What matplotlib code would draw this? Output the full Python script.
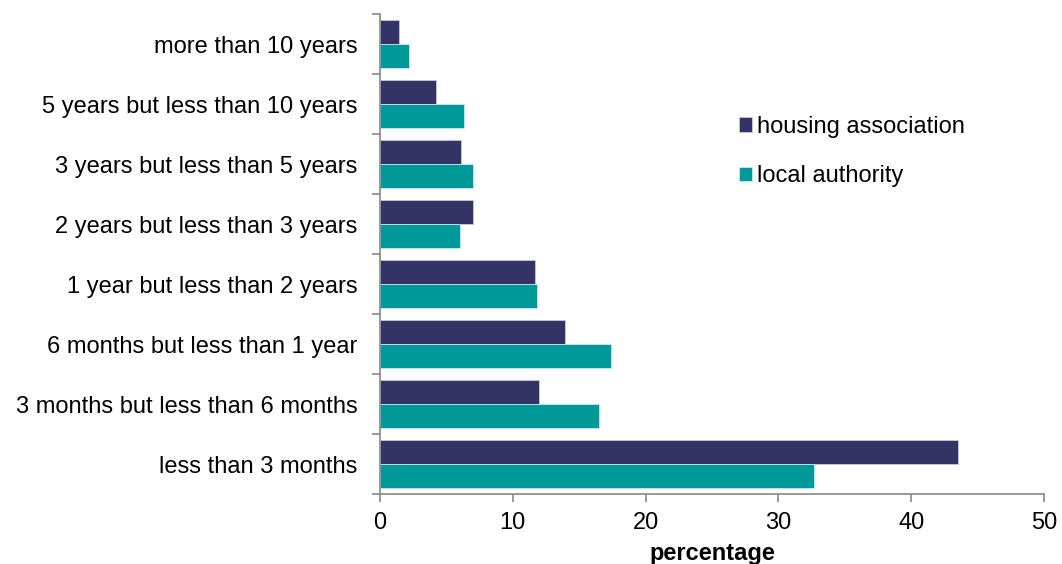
# Horizontal bar chart: length of time in current social housing tenancy
import matplotlib.pyplot as plt
import numpy as np

plt.rcParams['font.family'] = ['Liberation Sans', 'DejaVu Sans']

categories = ['less than 3 months', '3 months but less than 6 months',
              '6 months but less than 1 year', '1 year but less than 2 years',
              '2 years but less than 3 years', '3 years but less than 5 years',
              '5 years but less than 10 years', 'more than 10 years']
housing_association = [43.5, 12.0, 13.9, 11.7, 7.0, 6.1, 4.2, 1.4]
local_authority = [32.7, 16.5, 17.4, 11.8, 6.0, 7.0, 6.3, 2.2]


def bar_chart():
    fig = plt.figure(figsize=(10.62, 5.64), dpi=100)
    ax = fig.add_axes([0.3578, 0.1241, 0.6252, 0.8510])

    ind = np.arange(len(categories))
    height = 0.4
    ax.barh(ind + height / 2, housing_association, height, color='#333366',
            edgecolor='#c8c8d8', linewidth=0.6, label='housing association')
    ax.barh(ind - height / 2, local_authority, height, color='#009999',
            edgecolor='#c8e8e8', linewidth=0.6, label='local authority')

    ax.set_xlim(0, 50)
    ax.set_ylim(-0.5, len(categories) - 0.5)
    ax.set_xticks(np.arange(0, 51, 10))
    ax.set_yticks(ind)
    ax.set_yticklabels(categories)
    ax.set_yticks(np.arange(-0.5, len(categories), 1), minor=True)

    grey = '#888888'
    for side in ['top', 'right']:
        ax.spines[side].set_visible(False)
    for side in ['left', 'bottom']:
        ax.spines[side].set_color(grey)
        ax.spines[side].set_linewidth(1.2)
    ax.tick_params(axis='y', which='major', length=0, pad=16, labelsize=17)
    ax.tick_params(axis='y', which='minor', length=6, width=1.2, color=grey)
    ax.tick_params(axis='x', length=6, width=1.2, color=grey, labelsize=17, pad=7)

    ax.set_xlabel('percentage', fontsize=17, fontweight='bold')
    ax.xaxis.label.set_va('center')
    ax.xaxis.set_label_coords(0.5, -0.123)

    ax.legend(loc='upper left', bbox_to_anchor=(0.541, 0.788), frameon=False,
              fontsize=17, handlelength=0.55, handleheight=0.55,
              handletextpad=0.2, labelspacing=1.16, borderpad=0, borderaxespad=0)

    fig.savefig('out.png', dpi=100)


if __name__ == '__main__':
    bar_chart()
